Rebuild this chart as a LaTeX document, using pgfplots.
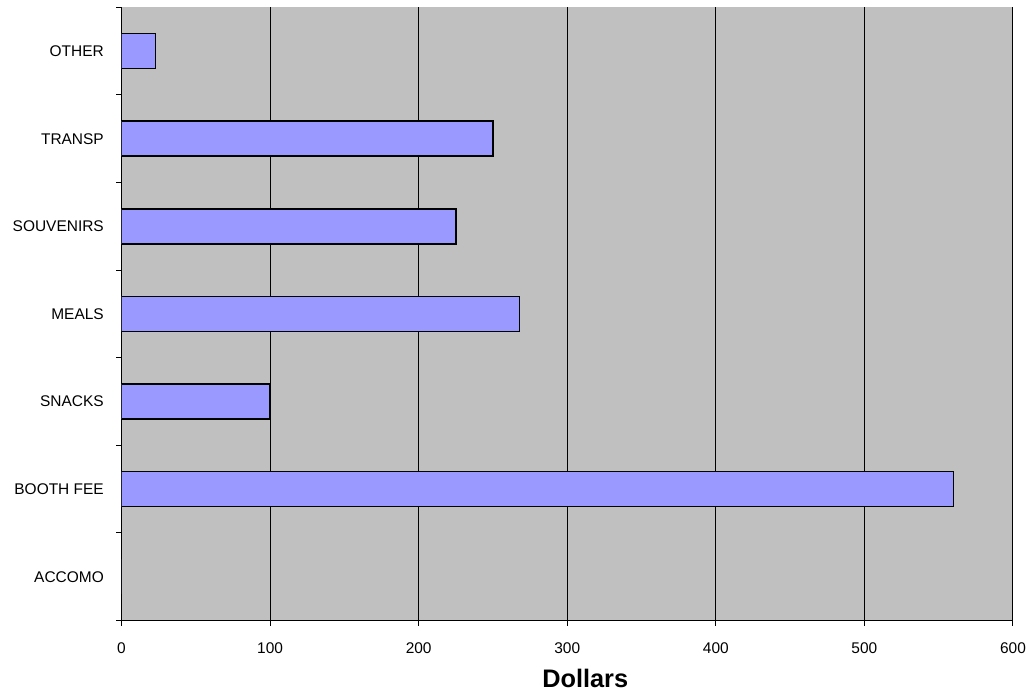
\documentclass[border=0pt]{standalone}
\usepackage{pgfplots}
\pgfplotsset{compat=1.18}
\usepackage{fontspec}
\setmainfont{Liberation Sans}
\definecolor{plotgray}{HTML}{C0C0C0}
\definecolor{barblue}{HTML}{9999FF}
\begin{document}
\begin{tikzpicture}
\path[use as bounding box] (0pt,0pt) rectangle (771pt,520.5pt);
\begin{axis}[
  at={(91.125pt,55.125pt)}, anchor=south west,
  scale only axis,
  width=668.6pt, height=459.9pt,
  xbar, bar width=0.4,
  xmin=0, xmax=600,
  ymin=-0.5, ymax=6.5,
  xtick={0,100,...,600},
  ytick={0,...,6},
  yticklabels={ACCOMO,BOOTH FEE,SNACKS,MEALS,SOUVENIRS,TRANSP,OTHER},
  minor ytick={-0.5,0.5,...,6.5},
  tick align=outside,
  major tick length=3.75pt,
  minor tick length=3.75pt,
  every major y tick/.append style={draw=none},
  tick style={black, line width=0.75pt},
  axis x line*=bottom, axis y line*=left,
  axis line style={black, line width=0.75pt, -},
  xmajorgrids,
  major x grid style={black, line width=0.75pt},
  axis background/.style={fill=plotgray},
  tick label style={font=\fontsize{11.6}{13}\selectfont},
  /pgf/number format/assume math mode=true,
  xticklabel style={yshift=-9.25pt},
  yticklabel style={xshift=-6pt},
  xlabel={Dollars},
  xlabel style={font=\bfseries\fontsize{19}{21}\selectfont, yshift=-5pt, xshift=13.5pt},
]
\addplot[fill=barblue, draw=black, line width=1.1pt] coordinates {
  (0,0) (560,1) (100,2) (268,3) (225,4) (250,5) (23,6)
};
\end{axis}
\end{tikzpicture}
\end{document}
